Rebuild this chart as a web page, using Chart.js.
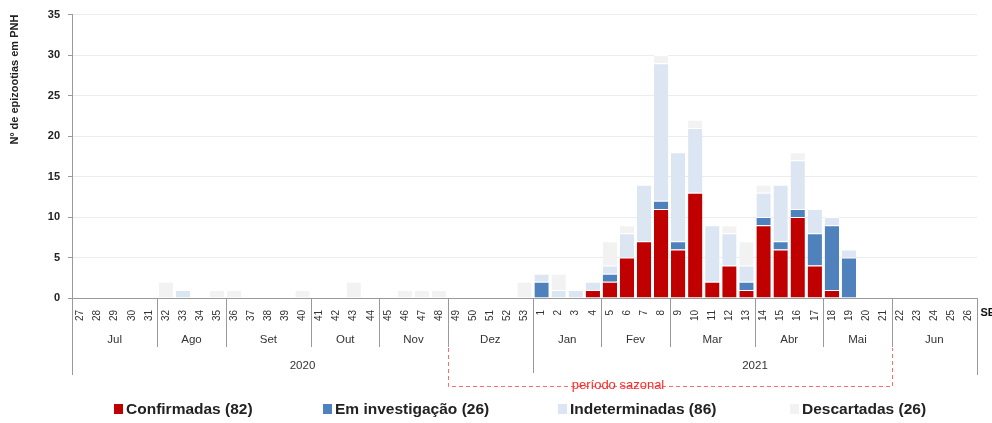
<!DOCTYPE html>
<html>
<head>
<meta charset="utf-8">
<script src="https://cdn.jsdelivr.net/npm/chart.js@4.4.0/dist/chart.umd.min.js"></script>
<style>
  html, body { margin: 0; padding: 0; background: #fff; }
  #wrap { width: 992px; height: 423px; position: relative; }
</style>
</head>
<body>
<div id="wrap"><canvas id="chart"></canvas></div>
<script>
// semanas epidemiologicas (2020: 27-53, 2021: 1-26)
const weeks = ['27','28','29','30','31','32','33','34','35','36','37','38','39','40','41','42','43','44','45','46','47','48','49','50','51','52','53',
               '1','2','3','4','5','6','7','8','9','10','11','12','13','14','15','16','17','18','19','20','21','22','23','24','25','26']

const months = ['Jul','Ago','Set','Out','Nov','Dez','Jan','Fev','Mar','Abr','Mai','Jun']
const monthWeeks = [5, 4, 5, 4, 4, 5, 4, 4, 5, 4, 4, 5]
const years = ['2020', '2021']
const yearWeeks = [27, 26]

// periodo sazonal: semana 49 de 2020 ate semana 21 de 2021
const seasonFrom = 22
const seasonTo = 47

const confirmadas = [0,0,0,0,0,0,0,0,0,0,0,0,0,0,0,0,0,0,0,0,0,0,0,0,0,0,0,
                     0,0,0,1,2,5,7,11,6,13,2,4,1,9,6,10,4,1,0,0,0,0,0,0,0,0]
const emInvestigacao = [0,0,0,0,0,0,0,0,0,0,0,0,0,0,0,0,0,0,0,0,0,0,0,0,0,0,0,
                        2,0,0,0,1,0,0,1,1,0,0,0,1,1,1,1,4,8,5,0,0,0,0,0,0,0]
const indeterminadas = [0,0,0,0,0,0,1,0,0,0,0,0,0,0,0,0,0,0,0,0,0,0,0,0,0,0,0,
                        1,1,1,1,1,3,7,17,11,8,7,4,2,3,7,6,3,1,1,0,0,0,0,0,0,0]
const descartadas = [0,0,0,0,0,2,0,0,1,1,0,0,0,1,0,0,2,0,0,1,1,1,0,0,0,0,2,
                     0,2,0,0,3,1,0,1,0,1,0,1,3,1,0,1,0,0,0,0,0,0,0,0,0,0]

const seriesNames = ['Confirmadas (82)', 'Em investigação (26)', 'Indeterminadas (86)', 'Descartadas (26)']
const seriesColors = ['#C00000', '#4F81BD', '#DCE6F2', '#F2F2F2']

const FONT = "'Liberation Sans', Arial, sans-serif"

function mkSet(i, vals) {
    return {
        label: seriesNames[i],
        data: vals,
        backgroundColor: seriesColors[i],
        borderColor: '#ffffff',
        borderWidth: { top: 1, left: 0, right: 0, bottom: 0 },
        borderSkipped: false,
        barPercentage: 0.84,
        categoryPercentage: 1.0
    }
}

// eixo de meses / anos, periodo sazonal e legenda
const extras = {
    id: 'extras',
    afterDraw(chart) {
        const ctx = chart.ctx
        const xs = chart.scales.x
        const ys = chart.scales.y
        const w = (xs.right - xs.left) / weeks.length
        const base = Math.round(ys.bottom) + 0.5
        const L = Math.round(xs.left) + 0.5
        const R = Math.round(xs.right) + 0.5
        const px = i => Math.round(xs.left + i * w) + 0.5

        ctx.save()
        ctx.strokeStyle = '#9a9a9a'
        ctx.lineWidth = 1
        ctx.beginPath()
        ctx.moveTo(L, base); ctx.lineTo(L, 375)
        ctx.moveTo(R, base); ctx.lineTo(R, 375)
        ctx.stroke()

        // meses
        ctx.font = '11.5px ' + FONT
        ctx.fillStyle = '#333'
        ctx.textAlign = 'center'
        ctx.textBaseline = 'middle'
        let k = 0
        months.forEach((m, i) => {
            const a = k
            k += monthWeeks[i]
            ctx.fillText(m, xs.left + (a + k) / 2 * w, 340)
            if (i < months.length - 1) {
                const yearEnd = k === yearWeeks[0]
                ctx.beginPath()
                ctx.moveTo(px(k), base)
                ctx.lineTo(px(k), yearEnd ? 373 : 347)
                ctx.stroke()
            }
        })

        // anos
        k = 0
        years.forEach((y, i) => {
            const a = k
            k += yearWeeks[i]
            ctx.fillText(y, xs.left + (a + k) / 2 * w, 366)
        })

        // SE
        ctx.font = 'bold 11px ' + FONT
        ctx.fillStyle = '#111'
        ctx.textAlign = 'left'
        ctx.fillText('SE', R + 3, 313)

        // periodo sazonal
        ctx.strokeStyle = '#ff6b6b'
        ctx.setLineDash([4, 3])
        ctx.beginPath()
        ctx.moveTo(px(seasonFrom), 348)
        ctx.lineTo(px(seasonFrom), 386.5)
        ctx.lineTo(px(seasonTo + 1), 386.5)
        ctx.lineTo(px(seasonTo + 1), 348)
        ctx.stroke()
        ctx.setLineDash([])
        ctx.font = '13px ' + FONT
        ctx.fillStyle = '#ff2a2a'
        ctx.textAlign = 'center'
        ctx.fillText('período sazonal', 618, 385)

        // legenda
        const legX = [114, 323, 558, 790]
        ctx.font = 'bold 15.5px ' + FONT
        ctx.textAlign = 'left'
        chart.data.datasets.forEach((ds, i) => {
            ctx.fillStyle = ds.backgroundColor
            ctx.fillRect(legX[i], 404, 9, 10)
            ctx.fillStyle = '#222'
            ctx.fillText(ds.label, legX[i] + 12, 410)
        })
        ctx.restore()
    }
}

const config = {
    type: 'bar',
    data: {
        labels: weeks,
        datasets: [
            mkSet(0, confirmadas),
            mkSet(1, emInvestigacao),
            mkSet(2, indeterminadas),
            mkSet(3, descartadas)
        ]
    },
    options: {
        responsive: true,
        maintainAspectRatio: false,
        animation: false,
        layout: { padding: { top: 14, right: 15, left: 0, bottom: 0 } },
        plugins: {
            legend: { display: false },
            tooltip: { enabled: false }
        },
        scales: {
            x: {
                stacked: true,
                offset: true,
                grid: { display: false },
                border: { display: true, color: '#9a9a9a' },
                ticks: {
                    autoSkip: false,
                    maxRotation: 90,
                    minRotation: 90,
                    padding: 4,
                    color: '#333',
                    font: { family: FONT, size: 10 }
                },
                afterFit(s) { s.height = 125 }
            },
            y: {
                stacked: true,
                min: 0,
                max: 35,
                ticks: {
                    stepSize: 5,
                    padding: 8,
                    color: '#222',
                    font: { family: FONT, size: 11, weight: 'bold' }
                },
                grid: { color: '#ececec', tickColor: '#9a9a9a', tickLength: 4 },
                border: { color: '#9a9a9a' },
                title: {
                    display: true,
                    text: 'Nº de epizootias em PNH',
                    align: 'end',
                    color: '#222',
                    font: { family: FONT, size: 11, weight: 'bold' },
                    padding: { top: 8, bottom: 0 }
                },
                afterFit(s) { s.width = 72 }
            }
        }
    },
    plugins: [extras]
}

const chart = new Chart(document.getElementById('chart'), config)
</script>
</body>
</html>
